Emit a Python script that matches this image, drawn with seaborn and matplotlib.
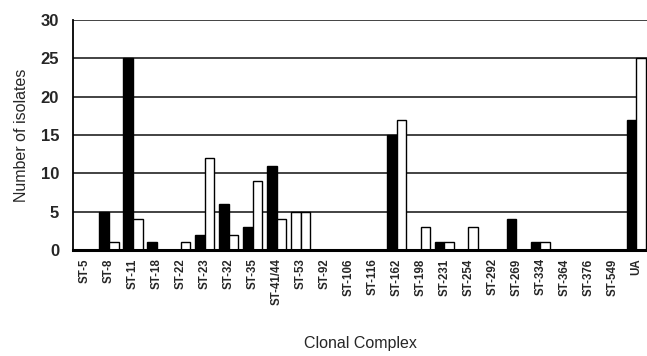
import matplotlib
matplotlib.use("Agg")
import matplotlib.pyplot as plt
import seaborn as sns
import pandas as pd

categories = ["ST-5", "ST-8", "ST-11", "ST-18", "ST-22", "ST-23", "ST-32", "ST-35",
              "ST-41/44", "ST-53", "ST-92", "ST-106", "ST-116", "ST-162", "ST-198",
              "ST-231", "ST-254", "ST-292", "ST-269", "ST-334", "ST-364", "ST-376",
              "ST-549", "UA"]
series_a = [0, 5, 25, 1, 0, 2, 6, 3, 11, 5, 0, 0, 0, 15, 0, 1, 0, 0, 4, 1, 0, 0, 0, 17]
series_b = [0, 1, 4, 0, 1, 12, 2, 9, 4, 5, 0, 0, 0, 17, 3, 1, 3, 0, 0, 1, 0, 0, 0, 25]
series_names = ["A", "B"]
y_ticks = [0, 5, 10, 15, 20, 25, 30]

df = pd.DataFrame({
    "cc": categories * 2,
    "n": series_a + series_b,
    "s": [series_names[0]] * len(categories) + [series_names[1]] * len(categories),
})

sns.set_style("white")
plt.rcParams["font.family"] = ["Liberation Sans", "DejaVu Sans"]

fig = plt.figure(figsize=(6.47, 3.56), dpi=100)
ax = fig.add_axes([73 / 647, 1 - 250 / 356, 1 - 73 / 647, 230 / 356])

sns.barplot(data=df, x="cc", y="n", hue="s", order=categories,
            hue_order=series_names, palette=["black", "white"],
            edgecolor="black", linewidth=1, width=0.8, ax=ax,
            legend=False, zorder=3)

# In the source figure the first bar of ST-53 is drawn unfilled
for p, cat_i in zip(ax.patches[:len(categories)], range(len(categories))):
    if categories[cat_i] == "ST-53":
        p.set_facecolor("white")

ax.set_ylim(0, 30)
ax.set_xlim(-0.5, 23.45)
ax.set_yticks(y_ticks)
ax.set_yticklabels([str(t) for t in y_ticks], fontsize=12, fontweight="bold")
ax.yaxis.grid(True, color="#222222", linewidth=1.2, zorder=0)
ax.set_axisbelow(True)
ax.tick_params(axis="y", length=0, pad=10)
ax.tick_params(axis="x", length=0, pad=6)
ax.set_xticks(range(len(categories)))
ax.set_xticklabels(categories, rotation=90, fontsize=8.3, fontweight="bold")

for side in ["top", "right"]:
    ax.spines[side].set_visible(False)
ax.spines["left"].set_color("black")
ax.spines["left"].set_linewidth(1.3)
ax.spines["bottom"].set_color("black")
ax.spines["bottom"].set_linewidth(2.2)
ax.spines["bottom"].set_zorder(4)

ax.set_xlabel("Clonal Complex", fontsize=11.5, labelpad=22)
ax.set_ylabel("Number of isolates", fontsize=11.5, labelpad=8)

fig.savefig("out.png", dpi=100)
